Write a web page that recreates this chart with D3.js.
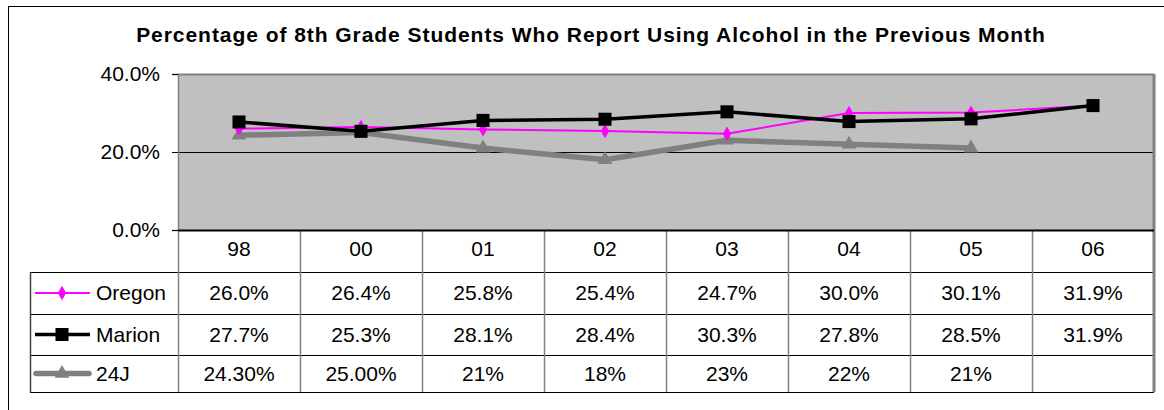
<!DOCTYPE html>
<html lang="en">
  <head>
    <meta charset="utf-8">
    <script src="https://d3js.org/d3.v7.min.js"></script>
    <style>
      body { margin: 0; background: white; }
      text { font-family: "Liberation Sans", Arial, sans-serif; }
    </style>
  </head>
  <body>
    <script>

    // Chart data
    var categories = ["98", "00", "01", "02", "03", "04", "05", "06"];
    var seriesNames = ["Oregon", "Marion", "24J"];
    var oregon = [26.0, 26.4, 25.8, 25.4, 24.7, 30.0, 30.1, 31.9];
    var marion = [27.7, 25.3, 28.1, 28.4, 30.3, 27.8, 28.5, 31.9];
    var j24 = [24.3, 25.0, 21, 18, 23, 22, 21, null];
    var oregonLabels = ["26.0%", "26.4%", "25.8%", "25.4%", "24.7%", "30.0%", "30.1%", "31.9%"];
    var marionLabels = ["27.7%", "25.3%", "28.1%", "28.4%", "30.3%", "27.8%", "28.5%", "31.9%"];
    var j24Labels = ["24.30%", "25.00%", "21%", "18%", "23%", "22%", "21%", ""];
    var yTicks = [0, 20, 40];

    var svgW = 1164, svgH = 410;
    var plotL = 178, plotR = 1154, plotT = 74, plotB = 230;
    var rowH = [42, 42, 41, 37];
    var legendL = 30;
    var fontSize = "21px";

    var series = [
      {name: seriesNames[0], values: oregon, labels: oregonLabels, color: "#ff00ff", width: 2, symbol: d3.symbolDiamond, size: 60},
      {name: seriesNames[1], values: marion, labels: marionLabels, color: "#000000", width: 3.5, symbol: d3.symbolSquare, size: 170},
      {name: seriesNames[2], values: j24, labels: j24Labels, color: "#808080", width: 5.5, symbol: d3.symbolTriangle, size: 95}
    ];

    var svg = d3.select("body").append("svg")
                .attr("width", svgW)
                .attr("height", svgH);

    // Outer frame
    svg.append("rect")
        .attr("x", 8.5).attr("y", 6.5)
        .attr("width", svgW + 10).attr("height", svgH + 10)
        .attr("fill", "white")
        .attr("stroke", "black")
        .attr("stroke-width", 1);

    // Title
    svg.append("text")
        .attr("x", 591)
        .attr("y", 42)
        .attr("text-anchor", "middle")
        .style("font-size", "21px")
        .style("font-weight", "bold")
        .style("letter-spacing", "0.95px")
        .text("Percentage of 8th Grade Students Who Report Using Alcohol in the Previous Month");

    // Scales
    var x = d3.scaleBand().domain(categories).range([plotL, plotR]);
    var y = d3.scaleLinear().domain([0, 40]).range([plotB, plotT]);

    // Plot area
    svg.append("rect")
        .attr("x", plotL).attr("y", plotT)
        .attr("width", plotR - plotL).attr("height", plotB - plotT)
        .attr("fill", "#c0c0c0");

    svg.append("line")
        .attr("x1", plotL).attr("x2", plotR)
        .attr("y1", plotT + 0.5).attr("y2", plotT + 0.5)
        .attr("stroke", "#808080").attr("stroke-width", 2);

    // Gridline
    svg.append("line")
        .attr("x1", plotL).attr("x2", plotR)
        .attr("y1", Math.round(y(20)) + 0.5).attr("y2", Math.round(y(20)) + 0.5)
        .attr("stroke", "black").attr("stroke-width", 1);

    // Y axis
    var yAxis = d3.axisLeft(y)
                  .tickValues(yTicks)
                  .tickSize(6)
                  .tickPadding(12)
                  .tickFormat(function(d) { return d.toFixed(1) + "%"; });
    var yG = svg.append("g")
                .attr("transform", "translate(" + plotL + ",0)")
                .call(yAxis);
    yG.select(".domain").attr("stroke", "#808080").attr("stroke-width", 1.5);
    yG.selectAll("text").style("font-size", fontSize).attr("fill", "black");

    // Data table
    var tableTop = plotB;
    var rowY = [tableTop];
    rowH.forEach(function(h, i) { rowY.push(rowY[i] + h); });
    var tableBottom = rowY[rowY.length - 1];

    var table = svg.append("g").attr("class", "table");

    // horizontal lines
    for (var i = 1; i < rowY.length; i++) {
      table.append("line")
            .attr("x1", legendL).attr("x2", plotR)
            .attr("y1", rowY[i] + 0.5).attr("y2", rowY[i] + 0.5)
            .attr("stroke", "black").attr("stroke-width", 1);
    }
    // vertical lines between categories
    categories.forEach(function(c) {
      table.append("line")
            .attr("x1", x(c) + 0.5).attr("x2", x(c) + 0.5)
            .attr("y1", tableTop).attr("y2", tableBottom)
            .attr("stroke", "#808080").attr("stroke-width", 1.5);
    });
    table.append("line")
          .attr("x1", legendL + 0.5).attr("x2", legendL + 0.5)
          .attr("y1", rowY[1]).attr("y2", tableBottom)
          .attr("stroke", "#404040").attr("stroke-width", 1.5);
    // right edge
    svg.append("line")
        .attr("x1", plotR).attr("x2", plotR)
        .attr("y1", plotT).attr("y2", tableBottom)
        .attr("stroke", "#808080").attr("stroke-width", 3);

    // x axis line
    svg.append("line")
        .attr("x1", plotL).attr("x2", plotR)
        .attr("y1", plotB + 0.5).attr("y2", plotB + 0.5)
        .attr("stroke", "black").attr("stroke-width", 2);

    // category labels
    table.selectAll(".cat")
          .data(categories)
          .enter().append("text")
            .attr("x", function(d) { return x(d) + x.bandwidth() / 2; })
            .attr("y", (rowY[0] + rowY[1]) / 2 - 2)
            .attr("dy", "0.35em")
            .attr("text-anchor", "middle")
            .style("font-size", fontSize)
            .text(function(d) { return d; });

    // rows
    series.forEach(function(s, si) {
      var cy = (rowY[si + 1] + rowY[si + 2]) / 2;
      table.selectAll(".v" + si)
            .data(s.labels)
            .enter().append("text")
              .attr("x", function(d, i) { return x(categories[i]) + x.bandwidth() / 2; })
              .attr("y", cy)
              .attr("dy", "0.35em")
              .attr("text-anchor", "middle")
              .style("font-size", fontSize)
              .text(function(d) { return d; });

      // legend key
      table.append("line")
            .attr("x1", si === 2 ? 36 : 35).attr("x2", si === 2 ? 89 : 90)
            .attr("y1", cy).attr("y2", cy)
            .attr("stroke", s.color)
            .attr("stroke-width", s.width)
            .attr("stroke-linecap", si === 2 ? "round" : "butt");
      table.append("path")
            .attr("d", d3.symbol().type(s.symbol).size(s.size))
            .attr("transform", "translate(62," + cy + ")")
            .attr("fill", s.color);
      table.append("text")
            .attr("x", 96)
            .attr("y", cy)
            .attr("dy", "0.35em")
            .style("font-size", fontSize)
            .text(s.name);
    });

    // Lines and markers, drawn back to front
    var line = d3.line()
                  .defined(function(d) { return d !== null; })
                  .x(function(d, i) { return x(categories[i]) + x.bandwidth() / 2; })
                  .y(function(d) { return y(d); });

    [2, 0, 1].forEach(function(si) {
      var s = series[si];
      var g = svg.append("g");
      g.append("path")
        .datum(s.values)
        .attr("d", line)
        .attr("fill", "none")
        .attr("stroke", s.color)
        .attr("stroke-width", s.width)
        .attr("stroke-linejoin", "round");
      g.selectAll("path.m")
        .data(s.values.map(function(v, i) { return {v: v, c: categories[i]}; })
                       .filter(function(d) { return d.v !== null; }))
        .enter().append("path")
          .attr("class", "m")
          .attr("d", d3.symbol().type(s.symbol).size(s.size))
          .attr("transform", function(d) {
            return "translate(" + (x(d.c) + x.bandwidth() / 2) + "," + y(d.v) + ")";
          })
          .attr("fill", s.color);
    });

    </script>
  </body>
</html>
